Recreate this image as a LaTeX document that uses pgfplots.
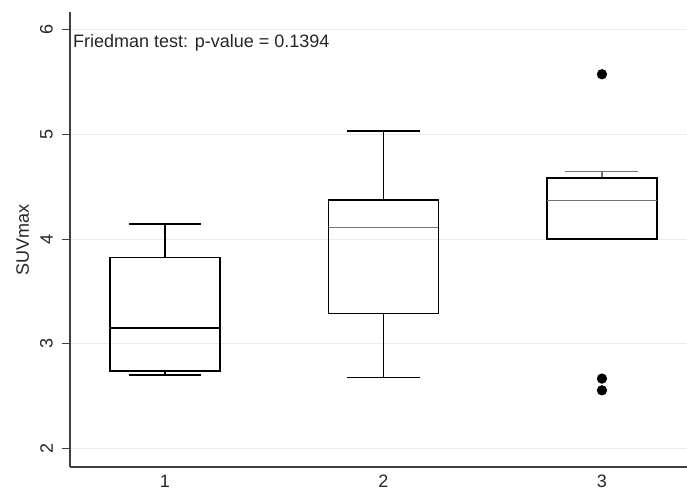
\documentclass[border=0pt]{standalone}
\usepackage{fontspec}
\setmainfont{Liberation Sans}
\usepackage{pgfplots}
\pgfplotsset{compat=1.18}
\usepgfplotslibrary{statistics}
\begin{document}
\begin{tikzpicture}
\useasboundingbox (0pt,0pt) rectangle (687pt,491pt);
\begin{axis}[
  at={(70pt,24pt)}, anchor=south west,
  scale only axis, width=620pt, height=455pt,
  xmin=0.5652, xmax=3.403, ymin=1.823, ymax=6.172,
  axis x line*=bottom, axis y line*=left,
  axis line style={-, draw=black!75, line width=1.2pt},
  xtick={1,2,3}, xticklabels={1,2,3},
  ytick={2,3,4,5,6},
  x tick style={draw=none},
  y tick style={draw=black!75, line width=1pt},
  tick align=outside, major tick length=8pt,
  ymajorgrids, grid style={draw=black!8, line width=1pt},
  /pgf/number format/assume math mode=true,
  tick label style={font=\fontsize{18}{21}\selectfont, text=black!85},
  xticklabel style={inner sep=0pt, anchor=north, yshift=0pt},
  yticklabel style={rotate=90, anchor=south, inner sep=0pt, yshift=9pt},
  ylabel={SUVmax},
  every axis y label/.style={at={(axis description cs:-0.0764,0.5)}, rotate=90, anchor=center, font=\fontsize{18}{21}\selectfont, text=black!85},
  boxplot/draw direction=y,
  clip=false,
]
\addplot[black, line width=1.6pt, solid,
  boxplot prepared={draw position=1, lower whisker=2.70, lower quartile=2.738,
    median=3.152, upper quartile=3.825, upper whisker=4.143,
    box extend=0.503, whisker extend=0.334}] coordinates {};
\addplot[black, line width=1.6pt, solid,
  boxplot/every median/.style={draw=black!55, line width=1.1pt},
  boxplot prepared={draw position=2, lower whisker=2.678, lower quartile=3.29,
    median=4.112, upper quartile=4.373, upper whisker=5.035,
    box extend=0.503, whisker extend=0.334}] coordinates {};
\addplot[black, line width=1.6pt, solid, mark=*, mark size=4.3pt,
  mark options={fill=black, draw=black, solid},
  boxplot/every median/.style={draw=black!55, line width=1.1pt},
  boxplot/every whisker/.style={draw=black!55, line width=1.1pt},
  boxplot prepared={draw position=3, lower whisker=4.0, lower quartile=4.0,
    median=4.373, upper quartile=4.586, upper whisker=4.65,
    box extend=0.503, whisker extend=0.334}]
  table[row sep=\\, y index=0] {5.577\\ 2.668\\ 2.556\\};
\node[anchor=base west, inner sep=0pt, font=\fontsize{18}{21}\selectfont, text=black!85]
  at (axis cs:0.579,5.837) {Friedman test: p-value = 0.1394};
\end{axis}
\end{tikzpicture}
\end{document}
